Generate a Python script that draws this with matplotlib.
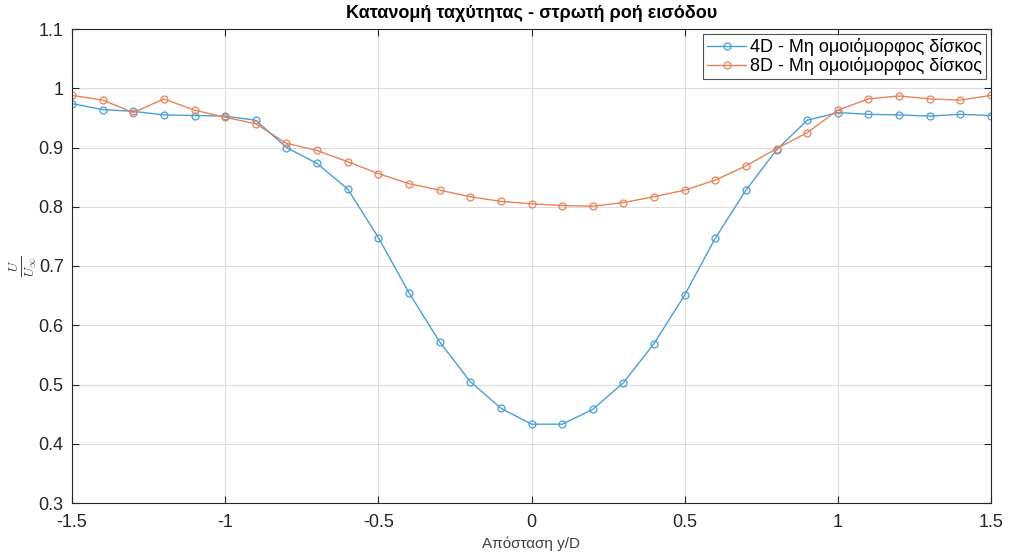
import numpy as np
import matplotlib
matplotlib.use("Agg")
import matplotlib.pyplot as plt

plt.rcParams['font.family'] = ['Liberation Sans', 'DejaVu Sans']
plt.rcParams['mathtext.fontset'] = 'cm'

# Radial positions y/D
y_D = np.round(np.arange(-1.5, 1.51, 0.1), 2)

# Normalised velocity U/U_inf, 4D downstream
u_4d = [0.974, 0.964, 0.961, 0.955, 0.954, 0.953, 0.946, 0.900, 0.873, 0.830,
        0.748, 0.655, 0.572, 0.505, 0.460, 0.433, 0.433, 0.458, 0.503, 0.569,
        0.651, 0.747, 0.828, 0.896, 0.946, 0.959, 0.956, 0.955, 0.953, 0.956,
        0.954]

# Normalised velocity U/U_inf, 8D downstream
u_8d = [0.988, 0.980, 0.959, 0.982, 0.963, 0.951, 0.940, 0.907, 0.895, 0.876,
        0.856, 0.839, 0.828, 0.817, 0.809, 0.805, 0.802, 0.801, 0.807, 0.817,
        0.828, 0.845, 0.869, 0.898, 0.925, 0.963, 0.982, 0.987, 0.982, 0.980,
        0.988]

labels = ['4D - Μη ομοιόμορφος δίσκος', '8D - Μη ομοιόμορφος δίσκος']
colors = ['#4a9fd8', '#e9825a']

fig = plt.figure(figsize=(10.09, 5.56), dpi=100)
ax = fig.add_axes([72 / 1009, 1 - 503 / 556, (991 - 72) / 1009, (503 - 29) / 556])

for u, lab, c in zip([u_4d, u_8d], labels, colors):
    ax.plot(y_D, u, '-o', color=c, lw=1.0, markersize=5,
            markerfacecolor='none', markeredgewidth=0.9, label=lab)

ax.set_xlim(-1.5, 1.5)
ax.set_ylim(0.3, 1.1)
ax.set_xticks([-1.5, -1, -0.5, 0, 0.5, 1, 1.5])
ax.set_xticklabels(['-1.5', '-1', '-0.5', '0', '0.5', '1', '1.5'])
ax.set_yticks(np.arange(0.3, 1.11, 0.1))
ax.set_yticklabels(['0.3', '0.4', '0.5', '0.6', '0.7', '0.8', '0.9', '1', '1.1'])
ax.tick_params(direction='in', length=5, width=0.8, labelsize=13,
               top=True, right=True, colors='#262626', labelcolor='#262626')
ax.tick_params(axis='x', pad=8)
ax.tick_params(axis='y', pad=6)
for s in ax.spines.values():
    s.set_color('#262626')
    s.set_linewidth(0.8)
ax.grid(True, color='#dcdcdc', linewidth=0.8)
ax.set_axisbelow(True)

ax.set_title('Κατανομή ταχύτητας - στρωτή ροή εισόδου', fontsize=13,
             fontweight='bold', pad=8)
ax.set_xlabel('Απόσταση y/D', fontsize=11, color='#404040', labelpad=4)
ax.set_ylabel(r'$\frac{U}{U_\infty}$', fontsize=14, color='#404040', labelpad=0)

leg = ax.legend(loc='upper right', fontsize=13, frameon=True, fancybox=False,
                borderaxespad=0.3, handlelength=2.2, handletextpad=0.2,
                borderpad=0.2, labelspacing=0.05)
leg.get_frame().set_edgecolor('#262626')
leg.get_frame().set_linewidth(0.8)

fig.savefig('out.png', dpi=100)
